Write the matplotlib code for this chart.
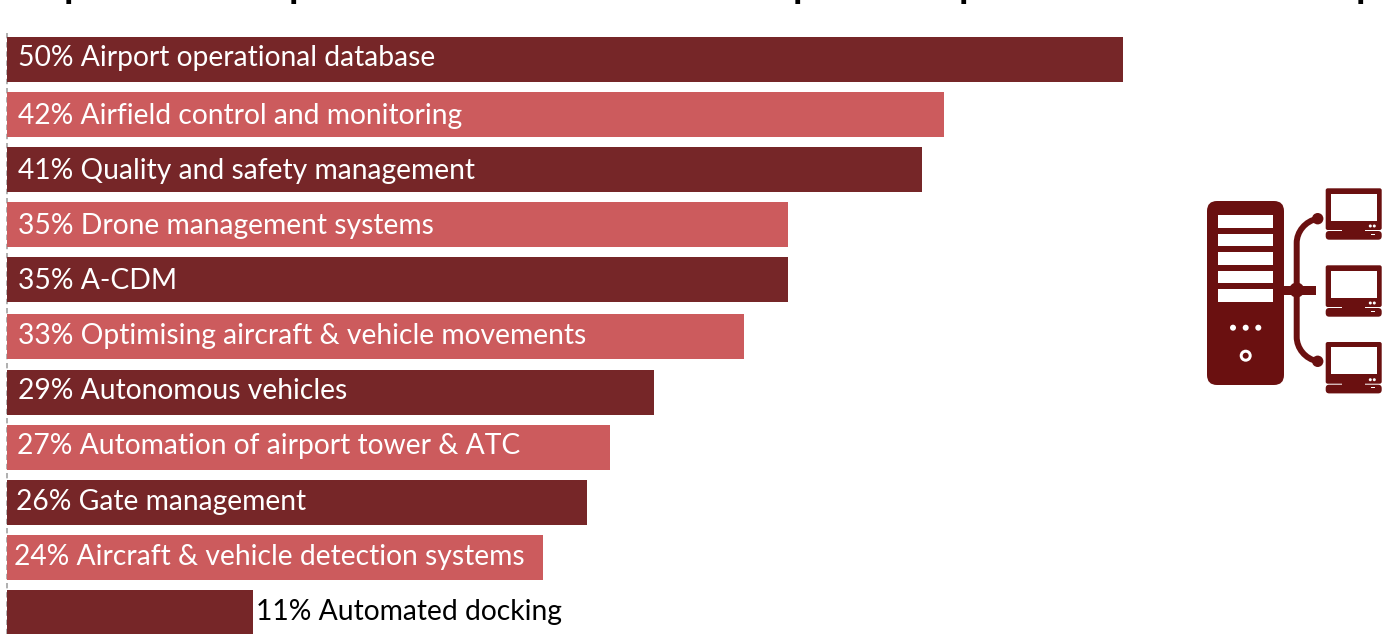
import matplotlib
matplotlib.use("Agg")
import matplotlib.pyplot as plt
from matplotlib.patches import FancyBboxPatch, Rectangle, Circle, PathPatch
from matplotlib.path import Path

# ---- data ----
categories = [
    "Airport operational database", "Airfield control and monitoring",
    "Quality and safety management", "Drone management systems", "A-CDM",
    "Optimising aircraft & vehicle movements", "Autonomous vehicles",
    "Automation of airport tower & ATC", "Gate management",
    "Aircraft & vehicle detection systems", "Automated docking",
]
values = [50, 42, 41, 35, 35, 33, 29, 27, 26, 24, 11]

# ---- layout and style ----
W, H = 1385, 634
DARK, LIGHT, ICON = "#762628", "#CC5B5D", "#6A1010"
PX_PER_UNIT = 22.32
X0 = 7
row_centres = [59.5, 114.5, 169.5, 224.5, 279.5, 336.5, 392.5, 447.5, 502.5, 557.5, 612]
label_left = [18, 18, 18, 18, 18, 18, 18, 17, 16, 14, 256]
label_baseline = [66, 124, 179, 234, 289, 344, 399, 454, 510, 565, 620]
BAR_H = 45
FONT_PX = 28.2
title_stems = [68, 293, 797, 963, 1360]

plt.rcParams["font.family"] = ["Lato", "DejaVu Sans"]
fig = plt.figure(figsize=(W / 100, H / 100), dpi=100, facecolor="white")

# Chart axes: value scale in x, pixel rows in y
ax = fig.add_axes([0, 0, 1, 1])
ax.set_xlim(-X0 / PX_PER_UNIT, (W - X0) / PX_PER_UNIT)
ax.set_ylim(H, 0)
ax.axis("off")
ax.plot([0, 0], [33, H], color="#9A9A9A", lw=1.1, ls=(0, (3.5, 2.5)), zorder=1, clip_on=False)
colors = [DARK if i % 2 == 0 else LIGHT for i in range(len(values))]
ax.barh(row_centres, values, height=BAR_H, color=colors, zorder=2)
for i, (cat, val) in enumerate(zip(categories, values)):
    inside = i < len(values) - 1
    ax.text((label_left[i] - X0) / PX_PER_UNIT, label_baseline[i], f"{val}% {cat}",
            color="white" if inside else "black", fontsize=FONT_PX * 0.72,
            va="baseline", ha="left", zorder=3)

# Clipped title: only the descenders fall inside the canvas
for sx in title_stems:
    fig.text((sx - 4) / W, 1 + 2 / H, "p", fontsize=28, fontweight="bold",
             color="black", va="baseline", ha="left")

# Icon in pixel coordinates
ic = fig.add_axes([0, 0, 1, 1], facecolor="none")
ic.set_xlim(0, W)
ic.set_ylim(H, 0)
ic.axis("off")

def rbox(x0, y0, x1, y1, r, c):
    ic.add_patch(FancyBboxPatch((x0 + r, y0 + r), x1 - x0 - 2 * r, y1 - y0 - 2 * r,
                                boxstyle=f"round,pad={r},rounding_size={r}", fc=c, ec="none"))

def rect(x0, y0, x1, y1, c):
    ic.add_patch(Rectangle((x0, y0), x1 - x0, y1 - y0, fc=c, ec="none"))

def dot(x, y, r, c):
    ic.add_patch(Circle((x, y), r, fc=c, ec="none"))

# server
rbox(1207, 201, 1284, 385, 10, ICON)
for y0, y1 in [(215.3, 227.7), (233.7, 246.3), (252.3, 264.7), (271, 283.3), (289.3, 302)]:
    rect(1218.3, y0, 1272.7, y1, "white")
for x in (1233, 1245.7, 1258.3):
    dot(x, 327.7, 3, "white")
dot(1245.7, 355.7, 6, "white")
dot(1245.7, 355.7, 3, ICON)

# connector
rect(1284, 286, 1316, 294.7, ICON)
dot(1296.7, 290, 7.5, ICON)
dot(1317.7, 218.7, 5.7, ICON)
dot(1317.7, 361.3, 5.7, ICON)
verts = [(1317.7, 218.7), (1305, 221), (1296.7, 232), (1296.7, 243),
         (1296.7, 337),
         (1296.7, 348), (1305, 359), (1317.7, 361.3)]
codes = [Path.MOVETO, Path.CURVE4, Path.CURVE4, Path.CURVE4, Path.LINETO,
         Path.CURVE4, Path.CURVE4, Path.CURVE4]
ic.add_patch(PathPatch(Path(verts, codes), fc="none", ec=ICON, lw=4.3))

# monitors
for dy in (0, 77, 153.7):
    rbox(1325.7, 188.3 + dy, 1381.7, 230 + dy, 2, ICON)
    rect(1330.7, 193.7 + dy, 1376.7, 220.7 + dy, "white")
    dot(1370.3, 226 + dy, 1.5, "white")
    dot(1374.3, 226 + dy, 1.5, "white")
    rbox(1325.7, 231 + dy, 1381.7, 239.7 + dy, 3.5, ICON)
    rect(1342, 229 + dy, 1365, 232 + dy, ICON)
    rect(1371, 233.5 + dy, 1375, 234.5 + dy, "white")

fig.savefig("out.png", dpi=100, facecolor="white")
